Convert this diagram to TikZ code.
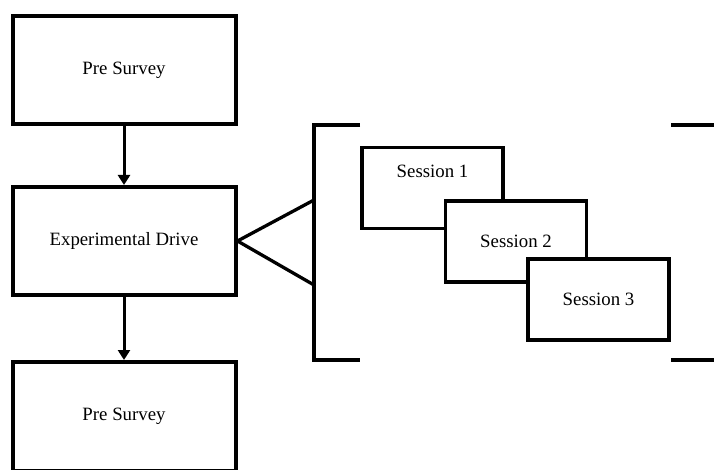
\documentclass[tikz,border=0pt]{standalone}
\usepackage{fontspec}
\setmainfont{Liberation Serif}
\usetikzlibrary{arrows.meta}

\begin{document}
\begin{tikzpicture}[x=1pt,y=-1pt,>={Triangle[width=12pt,length=10pt]},
 font=\fontsize{18.8}{22}\selectfont,
 mainbox/.style={draw,line width=4pt,fill=white,minimum width=223pt,minimum height=108pt},
 sessbox/.style={draw,line width=3.3pt,fill=white,minimum width=141pt,minimum height=81pt}]
\useasboundingbox (0,0) rectangle (714,470);
\clip (0,0) rectangle (714,470);
\node[mainbox] (pre) at (124,70) {Pre Survey};
\node[mainbox] (drive) at (124,241) {Experimental Drive};
\node[mainbox,minimum height=109pt] (post) at (124,416.5) {Pre Survey};
\draw[->,line width=3pt] (pre) -- (drive);
\draw[->,line width=3pt] (drive) -- (post);
% bracket
\draw[line width=4pt] (360,125.5) -- (314,125.5) -- (314,359.5) -- (360,359.5);
\draw[line width=4pt] (671,125.5) -- (716,125.5);
\draw[line width=4pt] (671,359.5) -- (716,359.5);
\coordinate (brtop) at (314,200);
\coordinate (brbot) at (314,285);
\draw[line width=3.3pt] (brtop) -- (drive.east) -- (brbot);
% sessions
\node[sessbox,text height=13pt,text depth=34pt] (s1) at (432.5,188) {Session 1};
\node[sessbox] (s2) at (516,241.5) {Session 2};
\node[sessbox] (s3) at (598.5,299.5) {Session 3};
\end{tikzpicture}
\end{document}
